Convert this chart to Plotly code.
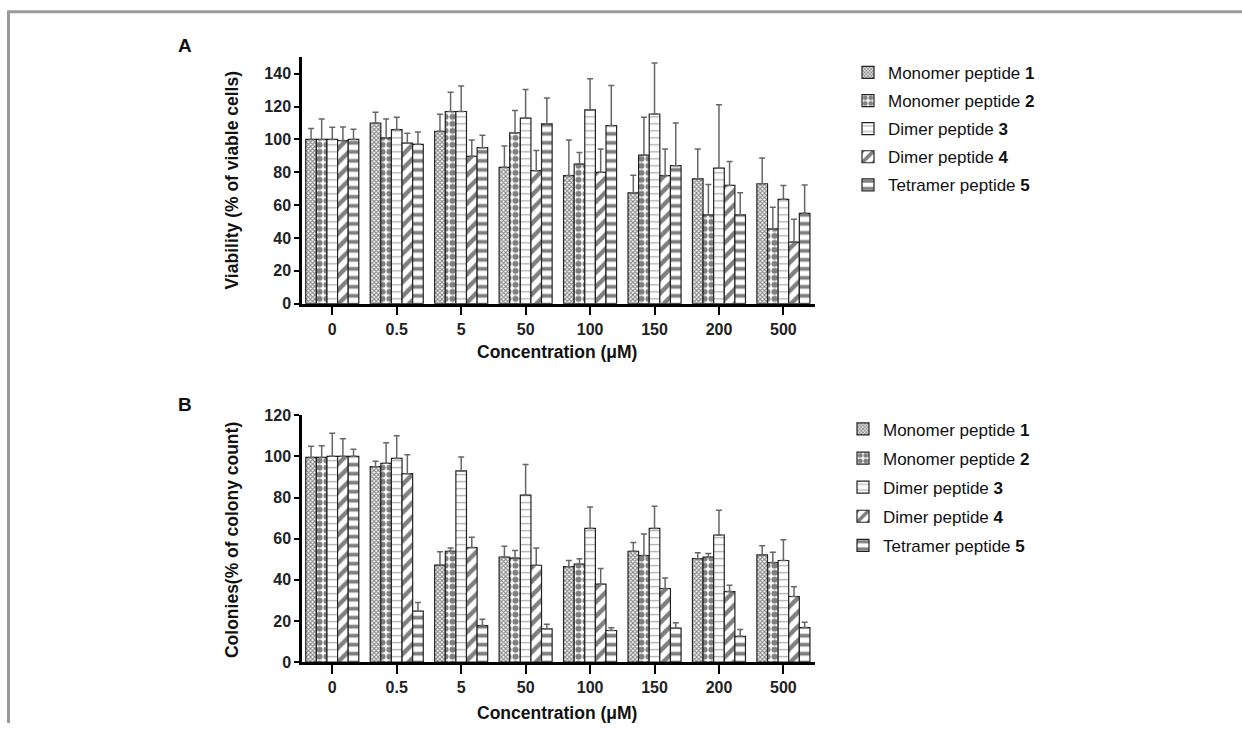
import plotly.graph_objects as go

W, H = 1242, 732

conc = ["0", "0.5", "5", "50", "100", "150", "200", "500"]
names = ["Monomer peptide <b>1</b>", "Monomer peptide <b>2</b>", "Dimer peptide <b>3</b>",
         "Dimer peptide <b>4</b>", "Tetramer peptide <b>5</b>"]

# Panel A: viability (% of viable cells), mean and SD
a_mono1 = [100, 110, 105, 83, 78, 67.5, 76, 73]
a_mono1_sd = [6.6, 6.5, 10.3, 13, 21.7, 10.7, 18.2, 15.7]
a_mono2 = [100, 101, 117, 104, 85, 90.5, 54, 45.5]
a_mono2_sd = [12.5, 11.5, 11.7, 13.6, 7, 23, 18.5, 13.2]
a_dimer3 = [100, 106, 117, 113, 118, 115.5, 82.5, 63.5]
a_dimer3_sd = [7.4, 7.5, 15.6, 17.4, 18.9, 31.1, 38.7, 8.4]
a_dimer4 = [99.3, 97.7, 89.7, 81, 80, 78, 72, 37.5]
a_dimer4_sd = [8.3, 6.1, 10, 12.2, 14.2, 16.2, 14.5, 13.9]
a_tetra5 = [100, 97, 95, 109.5, 108.5, 84, 54, 55]
a_tetra5_sd = [6.2, 7.6, 7.5, 15.8, 24.3, 26, 13.6, 17.3]

# Panel B: colonies (% of colony count), mean and SD
b_mono1 = [99.5, 95, 47.2, 51.1, 46.4, 53.9, 50.3, 52.1]
b_mono1_sd = [5.4, 2.6, 6.5, 5.2, 3, 4.2, 2.9, 4.5]
b_mono2 = [99.5, 96.6, 53.9, 50.6, 47.6, 51.8, 51.1, 48.4]
b_mono2_sd = [5.7, 10, 1.6, 3.6, 2.6, 10.5, 1.7, 5]
b_dimer3 = [100, 99, 92.9, 81.2, 65, 65, 61.8, 49.4]
b_dimer3_sd = [11.2, 11, 6.8, 14.9, 10.4, 10.7, 12, 10.1]
b_dimer4 = [100, 91.6, 55.7, 47.1, 37.9, 35.8, 34.3, 31.9]
b_dimer4_sd = [8.6, 9.2, 5, 8.4, 7.6, 5.1, 3.1, 4.7]
b_tetra5 = [100, 24.8, 17.8, 16.2, 15.4, 16.5, 12.6, 16.8]
b_tetra5_sd = [3.4, 4.2, 3.1, 2.2, 1.3, 2.6, 3.3, 2.6]

A_vals = [(a_mono1, a_mono1_sd), (a_mono2, a_mono2_sd), (a_dimer3, a_dimer3_sd),
          (a_dimer4, a_dimer4_sd), (a_tetra5, a_tetra5_sd)]
B_vals = [(b_mono1, b_mono1_sd), (b_mono2, b_mono2_sd), (b_dimer3, b_dimer3_sd),
          (b_dimer4, b_dimer4_sd), (b_tetra5, b_tetra5_sd)]

patterns = [
    dict(shape="x", size=3, solidity=0.6, fgcolor="#111", bgcolor="white"),
    dict(shape=".", size=7, solidity=0.6, fgcolor="#000", bgcolor="white"),
    dict(shape="-", size=7, solidity=0.18, fgcolor="#555", bgcolor="white"),
    dict(shape="/", size=10, solidity=0.45, fgcolor="#000", bgcolor="white"),
    dict(shape="-", size=9, solidity=0.42, fgcolor="#000", bgcolor="white"),
]

FONT = "Liberation Sans, Arial, sans-serif"


def py(y_px):
    # vertical pixel position (as seen in the photographed page) -> paper fraction
    return 1 - ((y_px - 7.3) / 0.978) / H


fig = go.Figure()

for panel, vals, xa, ya, lg in [("A", A_vals, "x", "y", "legend"), ("B", B_vals, "x2", "y2", "legend2")]:
    for i, (v, sd) in enumerate(vals):
        fig.add_trace(go.Bar(
            x=conc, y=v, name=names[i], xaxis=xa, yaxis=ya, legend=lg,
            legendgroup=f"{panel}{i}",
            marker=dict(color="white", pattern=patterns[i], line=dict(color="#222", width=1.2)),
            error_y=dict(type="data", symmetric=False, array=sd, arrayminus=[0] * len(sd),
                         color="#666", thickness=1.5, width=3),
        ))

xdom = [302 / W, 815 / W]
axis_common = dict(showgrid=False, zeroline=False, showline=True, linecolor="black",
                   linewidth=2.5, ticks="outside", tickwidth=2, tickcolor="black",
                   tickfont=dict(family=FONT, size=16, color="#222", weight="bold"))

fig.update_layout(
    width=W, height=H, autosize=False, margin=dict(l=0, r=0, t=0, b=0),
    paper_bgcolor="white", plot_bgcolor="white",
    barmode="group", bargap=0.177, bargroupgap=0,
    xaxis=dict(domain=xdom, anchor="y", type="category", range=[-0.47, 7.49], ticklen=9, **axis_common),
    yaxis=dict(domain=[py(303.3), py(56.7)], anchor="x", range=[0, 150],
               tickvals=[0, 20, 40, 60, 80, 100, 120, 140], ticklen=5, **axis_common),
    xaxis2=dict(domain=xdom, anchor="y2", type="category", range=[-0.47, 7.49], ticklen=9, **axis_common),
    yaxis2=dict(domain=[py(662.3), py(415)], anchor="x2", range=[0, 120], dtick=20,
                ticklen=5, **axis_common),
    legend=dict(x=848 / W, xanchor="left", y=1 - 48 / H, yanchor="top",
                font=dict(family=FONT, size=17, color="#111"), tracegroupgap=3,
                bgcolor="rgba(0,0,0,0)"),
    legend2=dict(x=843 / W, xanchor="left", y=1 - 413 / H, yanchor="top",
                 font=dict(family=FONT, size=17, color="#111"), tracegroupgap=4,
                 bgcolor="rgba(0,0,0,0)"),
    showlegend=True,
)

ann_font = dict(family=FONT, size=17.5, color="#111", weight="bold")
annotations = [
    dict(text="A", x=185 / W, y=py(45), font=dict(family=FONT, size=19, color="#111", weight="bold")),
    dict(text="B", x=185 / W, y=py(404), font=dict(family=FONT, size=19, color="#111", weight="bold")),
    dict(text="Viability (% of viable cells)", x=232 / W, y=py(180), textangle=-90, font=ann_font),
    dict(text="Colonies(% of colony count)", x=232 / W, y=py(540), textangle=-90, font=ann_font),
    dict(text="Concentration (μM)", x=557 / W, y=py(352), font=ann_font),
    dict(text="Concentration (μM)", x=557 / W, y=py(713), font=ann_font),
]
for a in annotations:
    a.update(xref="paper", yref="paper", showarrow=False, xanchor="center", yanchor="middle")
fig.update_layout(annotations=annotations)

fig.update_layout(shapes=[
    dict(type="line", xref="paper", yref="paper", x0=7 / W, x1=1, y0=py(11), y1=py(11),
         line=dict(color="#9a9a9a", width=3)),
    dict(type="line", xref="paper", yref="paper", x0=8.5 / W, x1=8.5 / W, y0=0, y1=py(11),
         line=dict(color="#9a9a9a", width=3)),
])

fig.write_html(
    "out.html",
    config={"responsive": False, "displayModeBar": False},
    post_script=(
        "var d=document.getElementById('{plot_id}');"
        "d.style.position='fixed';d.style.top='0px';d.style.left='0px';"
        "document.body.style.margin='0';document.body.style.overflow='hidden';"
        "document.documentElement.style.overflow='hidden';"
    ),
)
